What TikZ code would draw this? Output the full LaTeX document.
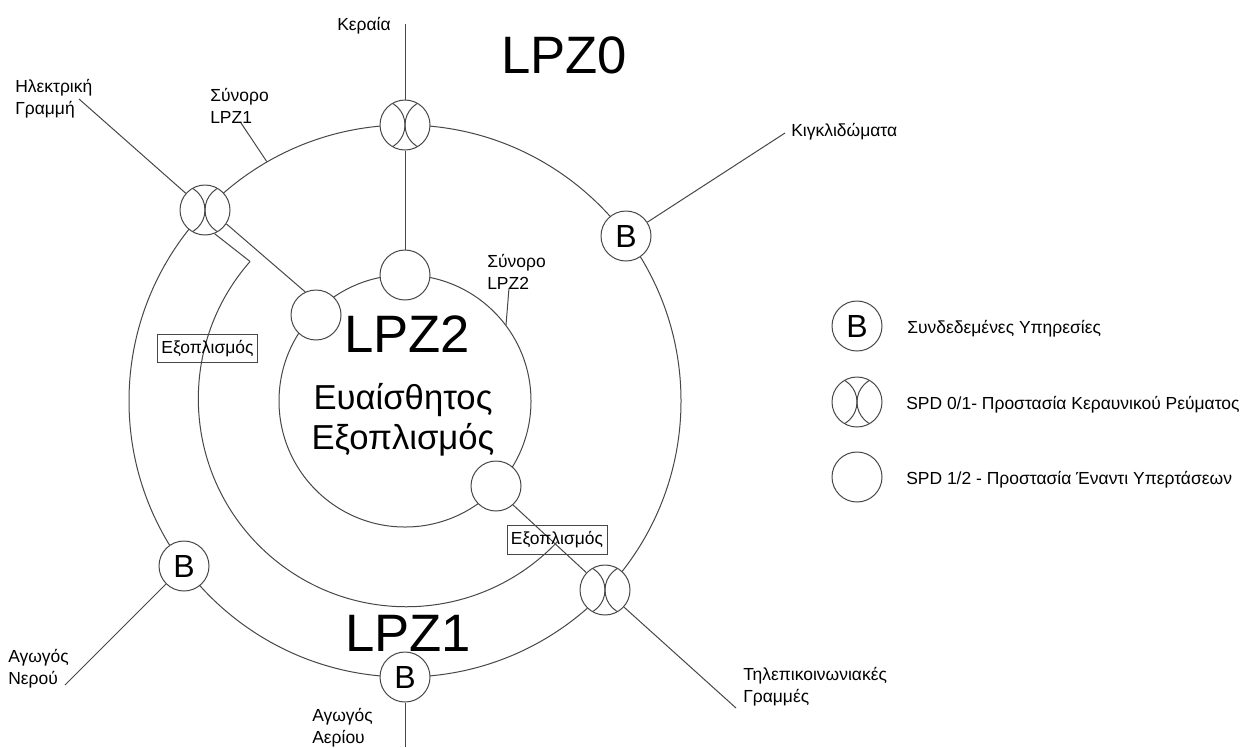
\documentclass[tikz,border=0pt]{standalone}
\usepackage{fontspec}
\setmainfont{Liberation Sans}
\tikzset{
  line/.style={draw=black!72,line width=0.75pt},
  ring/.style={circle,line,inner sep=0pt},
  plain/.style={ring,fill=white,minimum size=37.5pt,font=\fontsize{24}{26}\selectfont},
  lens/.style={plain,path picture={
    \draw[line] (path picture bounding box.center) ++(-18.75pt,0) circle (18.75pt);
    \draw[line] (path picture bounding box.center) ++(18.75pt,0) circle (18.75pt);}},
  small/.style={font=\fontsize{13.1}{16.5}\selectfont,align=left,inner sep=0pt,text height=9.6pt,text depth=2.8pt},
  label/.style={small,anchor=west},
  equip/.style={line,small,minimum width=75pt,minimum height=21.5pt},
  big/.style={font=\fontsize{39.5}{42}\selectfont,inner sep=0pt},
  mid/.style={font=\fontsize{26}{30}\selectfont,align=center,inner sep=0pt}
}
\begin{document}
\begin{tikzpicture}[x=0.75pt,y=-0.75pt]
\useasboundingbox (0,0) rectangle (1244,747);
\fill[white] (0,0) rectangle (1244,747);
% zones
\node[ring,minimum size=414pt] (outer) at (405,401) {};
\node[ring,minimum size=189pt] (inner) at (405,401) {};
\node[ring,draw=none,minimum size=312pt] (middle) at (405,401) {};
\draw[line] (middle.138.7) arc[start angle=138.7,end angle=316.6,radius=156pt];
% free ends
\coordinate (antenna) at (405,24);
\coordinate (power) at (79,99);
\coordinate (rail) at (785,133);
\coordinate (telecom) at (736,708);
\coordinate (water) at (65,685);
\coordinate (gas) at (405,747);
\coordinate (lpzonetip) at (241,123);
\coordinate (lpztwotip) at (509,288);
% devices
\node[lens] (spdtop) at (405,125) {};
\node[lens] (spdleft) at (205,210) {};
\node[lens] (spdright) at (605,590) {};
\node[plain] (bright) at (626,236) {B};
\node[plain] (bleft) at (184,566) {B};
\node[plain] (bbottom) at (405,677) {B};
\node[plain] (sttop) at (405,275) {};
\node[plain] (stleft) at (316,315) {};
\node[plain] (stright) at (496,486) {};
% connectors
\draw[line] (antenna) -- (spdtop);
\draw[line] (spdtop) -- (sttop);
\draw[line] (power) -- (spdleft.139);
\draw[line] (rail) -- (bright);
\draw[line] (spdleft.-33) -- (stleft.115);
\draw[line] (spdleft.-68) -- (middle.138.7);
\draw[line] (stright.-48) -- (spdright.137);
\draw[line] (spdright.-42) -- (telecom);
\draw[line] (water) -- (bleft);
\draw[line] (bbottom) -- (gas);
\draw[line] (lpzonetip) -- (outer.120);
\draw[line] (lpztwotip) -- (inner.37);
% boxes
\node[equip] (eqa) at (207.5,348.5) {Εξοπλισμός};
\node[equip] (eqb) at (557,540) {Εξοπλισμός};
% labels
\node[big] (lzero) at (564,55) {LPZ0};
\node[big] (ltwo) at (407,334) {LPZ2};
\node[big] (lone) at (408,633.5) {LPZ1};
\node[mid] (sens) at (403,420) {Ευαίσθητος\\Εξοπλισμός};
\node[label] (tant) at (337,26) {Κεραία};
\node[label] (tpow) at (15,110) {Ηλεκτρική\\Γραμμή};
\node[label] (tlone) at (210,118.5) {Σύνορο\\LPZ1};
\node[label] (ttwo) at (487,284.5) {Σύνορο\\LPZ2};
\node[label] (trail) at (791,132) {Κιγκλιδώματα};
\node[label] (ttel) at (743,698) {Τηλεπικοινωνιακές\\Γραμμές};
\node[label] (twat) at (8,680) {Αγωγός\\Νερού};
\node[label] (tgas) at (312,739) {Αγωγός\\Αερίου};
% legend
\node[plain] (legb) at (857,326) {B};
\node[lens] (legl) at (857,402) {};
\node[plain] (legp) at (857,477) {};
\node[label] (tb) at (907,329) {Συνδεδεμένες Υπηρεσίες};
\node[label] (tl) at (906,405) {SPD 0/1- Προστασία Κεραυνικού Ρεύματος};
\node[label] (tp) at (906,480) {SPD 1/2 - Προστασία Έναντι Υπερτάσεων};
\end{tikzpicture}
\end{document}
